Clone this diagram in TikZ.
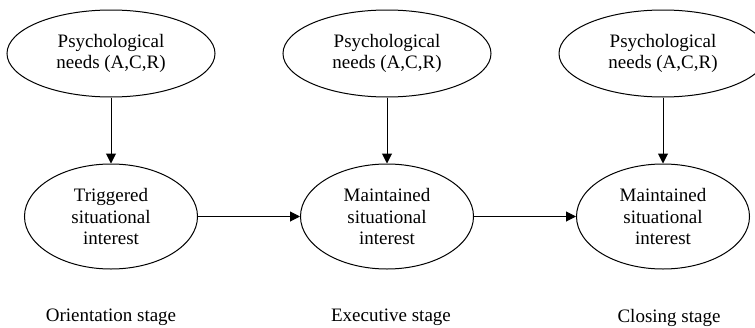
\documentclass[tikz,border=0pt]{standalone}
\usepackage{fontspec}
\setmainfont{Liberation Serif}
\usepackage{tikz}
\usetikzlibrary{positioning,shapes.geometric,arrows.meta}

\begin{document}
\begin{tikzpicture}
        [ font = \fontsize{9.5}{10.8}\selectfont
        , need/.style =
          { draw, ellipse, line width=.5pt, inner sep=0pt,
            minimum width=104pt, minimum height=43.5pt, align=center }
        , interest/.style =
          { draw, ellipse, line width=.5pt, inner sep=0pt,
            minimum width=86.5pt, minimum height=52.5pt, align=center }
        , stage/.style =
          { inner sep=0pt }
        , arrow/.style =
          { line width=.5pt, -{Triangle[length=5pt,width=5pt]} }
        ]
        \useasboundingbox (-55.5pt,26.75pt) rectangle (322pt,-136.75pt);

        \node [need] (need1) {Psychological\\needs (A,C,R)};
        \node [need] (need2) [right=33.5pt of need1] {Psychological\\needs (A,C,R)};
        \node [need] (need3) [right=33.5pt of need2] {Psychological\\needs (A,C,R)};
        \node [interest] (int1) [below=33pt of need1] {Triggered\\situational\\interest};
        \node [interest] (int2) [below=33pt of need2] {Maintained\\situational\\interest};
        \node [interest] (int3) [below=33pt of need3] {Maintained\\situational\\interest};
        \node [stage] (stage1) [below=19.5pt of int1] {Orientation stage};
        \node [stage] (stage2) [below=19.5pt of int2, xshift=2pt] {Executive stage};
        \node [stage] (stage3) [below=19.5pt of int3, xshift=3pt] {Closing stage};

        \draw [arrow] (need1) -- (int1);
        \draw [arrow] (need2) -- (int2);
        \draw [arrow] (need3) -- (int3);
        \draw [arrow] (int1) -- (int2);
        \draw [arrow] (int2) -- (int3);
\end{tikzpicture}
\end{document}
